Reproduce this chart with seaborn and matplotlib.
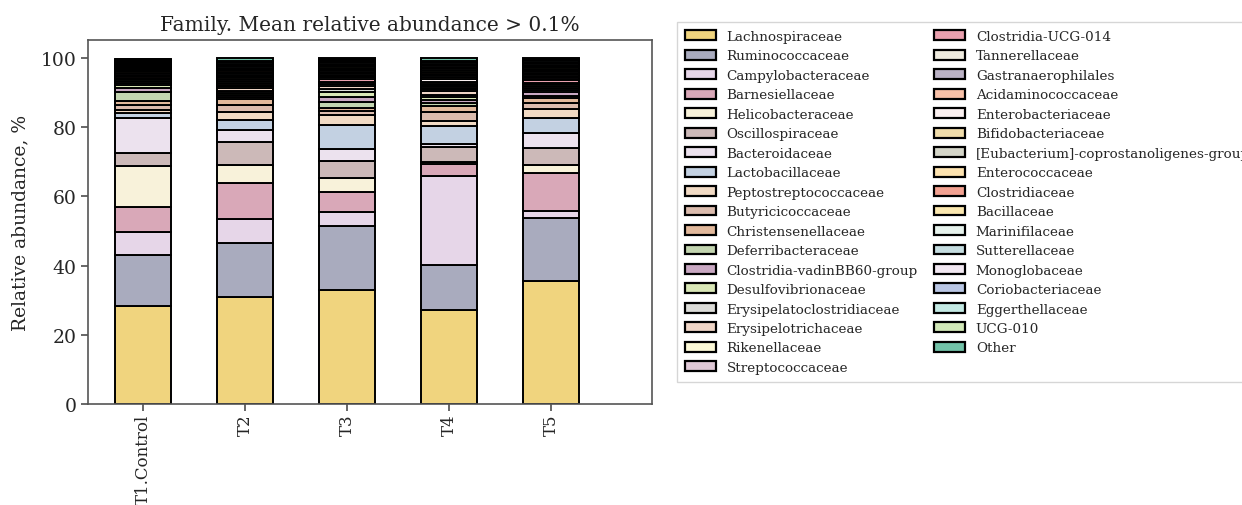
import matplotlib
matplotlib.use("Agg")
import matplotlib.pyplot as plt
from matplotlib.patches import Patch
import seaborn as sns
import pandas as pd

sns.set_theme(style="white")
plt.rcParams["font.family"] = ["DejaVu Serif"]

samples = ["T1.Control", "T2", "T3", "T4", "T5"]

families = [
    "Lachnospiraceae", "Ruminococcaceae", "Campylobacteraceae", "Barnesiellaceae",
    "Helicobacteraceae", "Oscillospiraceae", "Bacteroidaceae", "Lactobacillaceae",
    "Peptostreptococcaceae", "Butyricicoccaceae", "Christensenellaceae",
    "Deferribacteraceae", "Clostridia-vadinBB60-group", "Desulfovibrionaceae",
    "Erysipelatoclostridiaceae", "Erysipelotrichaceae", "Rikenellaceae",
    "Streptococcaceae", "Clostridia-UCG-014", "Tannerellaceae",
    "Gastranaerophilales", "Acidaminococcaceae", "Enterobacteriaceae",
    "Bifidobacteriaceae", "[Eubacterium]-coprostanoligenes-group",
    "Enterococcaceae", "Clostridiaceae", "Bacillaceae", "Marinifilaceae",
    "Sutterellaceae", "Monoglobaceae", "Coriobacteriaceae", "Eggerthellaceae",
    "UCG-010", "Other",
]

colors = [
    "#f0d47e", "#a9abbe", "#e6d6e8", "#d9a8b8", "#f8f2da", "#ccb9b8",
    "#ece2ee", "#c3d1e2", "#f1dac4", "#dcbcae", "#e2b99c", "#c3d5b0",
    "#c9a8c2", "#d9e7b6", "#dcdcd8", "#efd5c6", "#fbf8d6", "#dfc8d6",
    "#e9a0ae", "#efebdf", "#bbb2c5", "#f8c1a8", "#faf0f0", "#f0dcaa",
    "#d4d5c8", "#fde3b0", "#f3a292", "#fbe8b0", "#e6f2ec", "#c5dde0",
    "#f2e8f2", "#b9c6e4", "#c3e9e3", "#d1e8b8", "#72c2a8",
]

# relative abundance (%) of each family, stacked bottom to top in list order
t1_control = [28.3, 14.9, 6.4, 7.2, 11.9, 3.8, 10.1, 1.5, 0.9, 1.4, 1.3, 2.5,
              1.1, 1.0, 0.6, 0.5, 0.5, 0.4, 0.5, 0.4, 0.5, 0.4, 0.3,
              0.3, 0.3, 0.3, 0.3, 0.3, 0.3, 0.3, 0.3, 0.3, 0.3, 0.3, 0.1]
t2 = [30.8, 15.6, 7.1, 10.3, 5.3, 6.5, 3.6, 3.0, 2.3, 1.9, 1.8, 0.5,
      0.5, 0.8, 0.6, 0.6, 0.6, 0.5, 0.4, 0.6, 0.6, 0.5, 0.4,
      0.4, 0.4, 0.4, 0.4, 0.4, 0.4, 0.4, 0.4, 0.4, 0.4, 0.4, 0.8]
t3 = [33.0, 18.5, 3.9, 5.8, 4.1, 5.0, 3.4, 6.9, 3.0, 1.2, 0.8, 1.8,
      1.2, 1.7, 0.8, 0.9, 0.6, 0.6, 0.8, 0.4, 0.4, 0.4, 0.4,
      0.4, 0.4, 0.4, 0.4, 0.4, 0.4, 0.4, 0.3, 0.3, 0.3, 0.3, 0.3]
t4 = [27.3, 13.0, 25.7, 3.5, 0.3, 4.6, 0.6, 5.2, 1.7, 2.4, 1.7, 0.9,
      0.9, 0.8, 0.6, 1.3, 0.5, 0.4, 0.5, 0.3, 0.4, 0.4, 1.0,
      0.5, 0.5, 0.5, 0.5, 0.5, 0.5, 0.5, 0.4, 0.4, 0.4, 0.4, 0.8]
t5 = [35.6, 18.1, 2.0, 11.1, 2.4, 4.7, 4.4, 4.3, 2.7, 1.6, 1.5, 0.5,
      1.4, 0.4, 0.7, 0.5, 0.5, 0.5, 0.6, 0.4, 0.5, 0.5, 0.4,
      0.4, 0.4, 0.4, 0.4, 0.4, 0.4, 0.4, 0.4, 0.4, 0.4, 0.5, 0.1]

abundance = {s: v for s, v in zip(samples, [t1_control, t2, t3, t4, t5])}
rows = [(s, f, v) for s in samples for f, v in zip(families, abundance[s])]
df = pd.DataFrame(rows, columns=["sample", "family", "abundance"])
df["sample"] = pd.Categorical(df["sample"], categories=samples, ordered=True)
palette = dict(zip(families, colors))

fig = plt.figure(figsize=(12.42, 5.06), dpi=100)
ax = fig.add_axes([0.0709, 0.1996, 0.4541, 0.7194])

# histplot stacks the first hue level on top, so feed the order reversed
sns.histplot(
    data=df, x="sample", weights="abundance", hue="family",
    hue_order=families[::-1], palette=palette,
    multiple="stack", discrete=True, shrink=0.55,
    edgecolor="black", linewidth=1.4, alpha=1, legend=False, ax=ax,
)

ax.set_xlim(-0.54, 4.99)
ax.set_ylim(0, 105.2)
ax.set_yticks([0, 20, 40, 60, 80, 100])
ax.set_xlabel("")
ax.set_ylabel("Relative abundance, %", fontsize=13.5, labelpad=8)
ax.set_title("Family. Mean relative abundance > 0.1%", fontsize=14.5, pad=7)
ax.tick_params(axis="x", length=5, pad=2, color="#555555", bottom=True)
ax.tick_params(axis="y", labelsize=13.5, length=5, color="#555555", left=True)
plt.setp(ax.get_xticklabels(), rotation=90, fontsize=12)
for sp in ax.spines.values():
    sp.set_color("#555555")
    sp.set_linewidth(1.2)

handles = [Patch(facecolor=palette[f], edgecolor="black", linewidth=1.6, label=f)
           for f in families]
leg = ax.legend(
    handles=handles, loc="upper left", bbox_to_anchor=(0.5395, 0.968),
    bbox_transform=fig.transFigure, ncol=2, frameon=True,
    fontsize=9.7, handlelength=2.3, handleheight=0.75, labelspacing=0.48,
    columnspacing=1.2, borderpad=0.6, fancybox=False,
)
leg.get_frame().set_edgecolor("#cccccc")
leg.get_frame().set_linewidth(1.0)

fig.savefig("out.png", dpi=100)
